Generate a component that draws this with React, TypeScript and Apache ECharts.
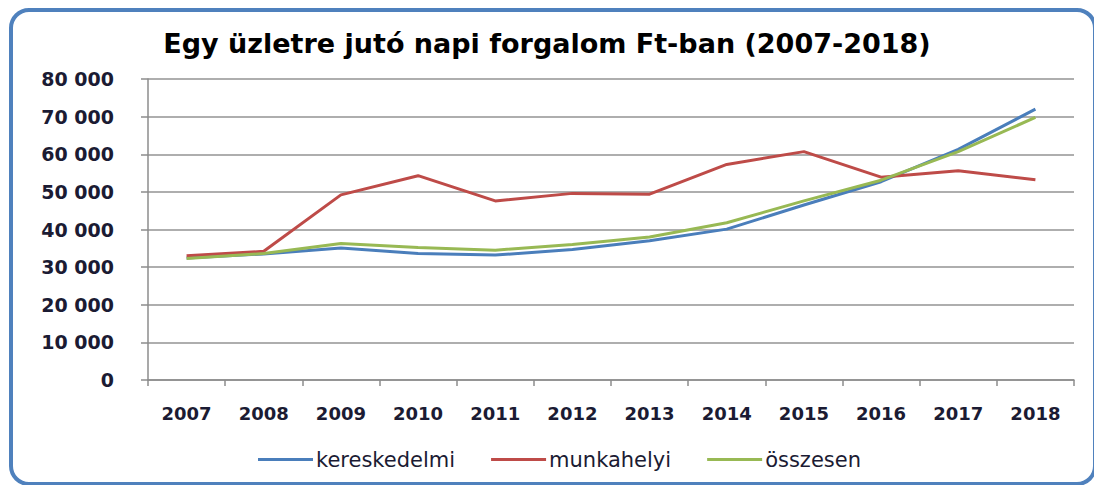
import React, { useEffect, useRef } from "react";
import * as echarts from "echarts";

const years = ["2007", "2008", "2009", "2010", "2011", "2012", "2013", "2014", "2015", "2016", "2017", "2018"];
const kereskedelmi = [32400, 33500, 35100, 33600, 33200, 34700, 37000, 40100, 46500, 52700, 61300, 72000];
const munkahelyi = [33000, 34200, 49200, 54300, 47600, 49600, 49400, 57300, 60700, 53900, 55600, 53200];
const osszesen = [32300, 33600, 36300, 35200, 34500, 36000, 38000, 41800, 47600, 53100, 60700, 69800];
const seriesNames = ["kereskedelmi", "munkahelyi", "összesen"];
const titleText = "Egy üzletre jutó napi forgalom Ft-ban (2007-2018)";

const textColor = "#1b1b33";

export default function App() {
  const ref = useRef<HTMLDivElement>(null);
  useEffect(() => {
    if (!ref.current) return;
    const chart = echarts.init(ref.current, null, { renderer: "svg" });
    const mk = (name: string, data: number[], color: string) => ({
      name,
      type: "line",
      data,
      symbol: "none",
      lineStyle: { color, width: 3 },
      itemStyle: { color },
    });
    chart.setOption({
      animation: false,
      title: {
        text: titleText,
        left: "center",
        top: 25,
        textStyle: { fontFamily: "DejaVu Sans", fontWeight: "bold", fontSize: 27, color: "#000" },
      },
      legend: {
        bottom: 10,
        left: 253,
        itemWidth: 55,
        itemHeight: 3,
        itemGap: 36,
        icon: "rect",
        textStyle: { fontFamily: "DejaVu Sans", fontSize: 21, color: textColor, padding: [0, 0, 0, -2] },
        data: seriesNames,
      },
      grid: { left: 148, right: 20, top: 79, bottom: 105 },
      xAxis: {
        type: "category",
        data: years,
        boundaryGap: true,
        axisLine: { lineStyle: { color: "#8c8c8c", width: 1.5 } },
        axisTick: { show: true, length: 6, lineStyle: { color: "#8c8c8c", width: 1.5 } },
        axisLabel: { fontFamily: "DejaVu Sans", fontWeight: "bold", fontSize: 18, color: textColor, margin: 24 },
      },
      yAxis: {
        type: "value",
        min: 0,
        max: 80000,
        interval: 10000,
        axisLine: { show: true, lineStyle: { color: "#8c8c8c", width: 1.5 } },
        axisTick: { show: true, length: 7, lineStyle: { color: "#8c8c8c", width: 1.5 } },
        splitLine: { lineStyle: { color: "#939393", width: 1.5 } },
        axisLabel: {
          fontFamily: "DejaVu Sans",
          fontWeight: "bold",
          fontSize: 19,
          color: textColor,
          margin: 34,
          formatter: (v: number) => (v === 0 ? "0" : String(v).replace(/\B(?=(\d{3})+(?!\d))/g, " ")),
        },
      },
      series: [
        mk(seriesNames[0], kereskedelmi, "#4a7ebb"),
        mk(seriesNames[1], munkahelyi, "#be4b48"),
        mk(seriesNames[2], osszesen, "#98b954"),
      ],
    });
    return () => chart.dispose();
  }, []);
  return (
    <div style={{ position: "absolute", left: 0, top: 0, width: 1094, height: 485, overflow: "hidden", background: "#fff" }}>
      <div
        style={{
          position: "absolute",
          left: 9,
          top: 8,
          width: 1088,
          height: 478,
          border: "4px solid #4f81bd",
          borderRadius: 20,
          boxSizing: "border-box",
        }}
      />
      <div ref={ref} style={{ position: "absolute", left: 0, top: 0, width: 1094, height: 485 }} />
    </div>
  );
}
